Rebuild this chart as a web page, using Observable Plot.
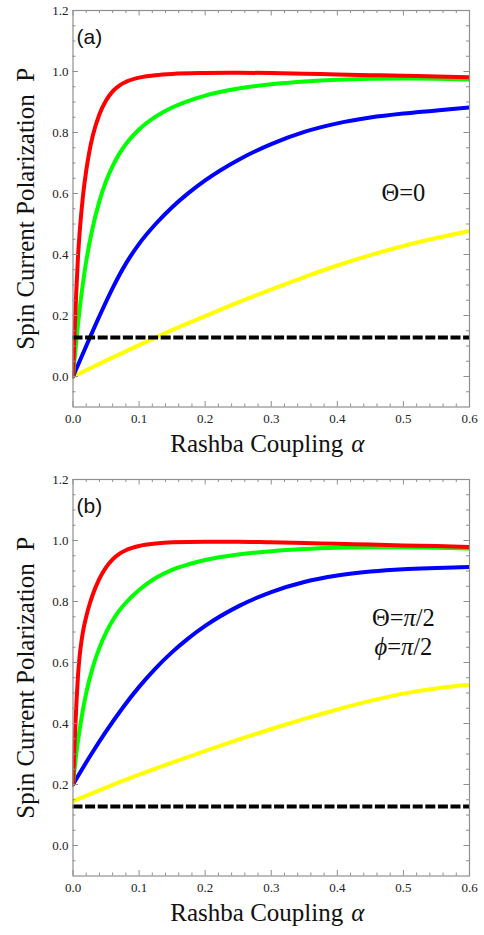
<!DOCTYPE html>
<html><head><meta charset="utf-8">
<script src="https://cdn.jsdelivr.net/npm/d3@7"></script>
<script src="https://cdn.jsdelivr.net/npm/@observablehq/plot@0.6"></script>
<style>
body{margin:0;background:#fff;}
#chart{width:484px;}
#chart svg{display:block;}
</style>
</head><body><div id="chart"></div>
<script>
// ---- data (alpha, P) ----
const redA = [[0,0],[0.0025,0.15],[0.005,0.28],[0.0075,0.39],[0.01,0.47],[0.0125,0.535],[0.015,0.59],[0.02,0.675],[0.025,0.74],[0.03,0.79],[0.04,0.86],[0.05,0.905],[0.06,0.935],[0.07,0.954],[0.08,0.966],[0.1,0.98],[0.125,0.988],[0.15,0.992],[0.2,0.995],[0.25,0.996],[0.3,0.995],[0.35,0.993],[0.4,0.99],[0.45,0.988],[0.5,0.986],[0.55,0.984],[0.6,0.981]];
const greenA = [[0,0],[0.005,0.115],[0.01,0.22],[0.015,0.305],[0.02,0.378],[0.03,0.49],[0.04,0.575],[0.05,0.64],[0.06,0.69],[0.07,0.73],[0.08,0.762],[0.1,0.81],[0.125,0.852],[0.15,0.882],[0.175,0.904],[0.2,0.921],[0.25,0.944],[0.3,0.958],[0.35,0.967],[0.4,0.973],[0.45,0.976],[0.5,0.977],[0.55,0.976],[0.6,0.974]];
const blueA = [[0,0],[0.02,0.1],[0.04,0.198],[0.06,0.29],[0.08,0.37],[0.1,0.435],[0.125,0.5],[0.15,0.555],[0.175,0.602],[0.2,0.643],[0.25,0.71],[0.3,0.762],[0.35,0.802],[0.4,0.83],[0.45,0.849],[0.5,0.862],[0.55,0.872],[0.6,0.882]];
const yellowA = [[0,0],[0.05,0.052],[0.1,0.103],[0.15,0.152],[0.2,0.198],[0.25,0.243],[0.3,0.285],[0.35,0.326],[0.4,0.364],[0.45,0.398],[0.5,0.428],[0.55,0.454],[0.6,0.477]];

const redB = [[0,0.2],[0.0025,0.34],[0.005,0.46],[0.0075,0.555],[0.01,0.62],[0.0125,0.665],[0.015,0.7],[0.02,0.75],[0.025,0.79],[0.03,0.823],[0.04,0.875],[0.05,0.912],[0.06,0.938],[0.07,0.956],[0.08,0.968],[0.1,0.982],[0.125,0.99],[0.15,0.994],[0.2,0.996],[0.25,0.996],[0.3,0.994],[0.35,0.992],[0.4,0.989],[0.45,0.987],[0.5,0.984],[0.55,0.982],[0.6,0.979]];
const greenB = [[0,0.2],[0.005,0.3],[0.01,0.38],[0.015,0.445],[0.02,0.5],[0.03,0.585],[0.04,0.648],[0.05,0.698],[0.06,0.738],[0.07,0.77],[0.08,0.796],[0.1,0.838],[0.125,0.877],[0.15,0.904],[0.175,0.922],[0.2,0.936],[0.25,0.954],[0.3,0.965],[0.35,0.972],[0.4,0.976],[0.45,0.978],[0.5,0.978],[0.55,0.976],[0.6,0.974]];
const blueB = [[0,0.2],[0.025,0.29],[0.05,0.374],[0.075,0.451],[0.1,0.52],[0.125,0.581],[0.15,0.634],[0.175,0.68],[0.2,0.72],[0.25,0.784],[0.3,0.831],[0.35,0.864],[0.4,0.885],[0.45,0.898],[0.5,0.906],[0.55,0.91],[0.6,0.913]];
const yellowB = [[0,0.145],[0.05,0.19],[0.1,0.232],[0.15,0.272],[0.2,0.31],[0.25,0.347],[0.3,0.382],[0.35,0.415],[0.4,0.446],[0.45,0.474],[0.5,0.498],[0.55,0.515],[0.6,0.527]];

const threshold = [0.128];

const xMajor = [0,0.1,0.2,0.3,0.4,0.5,0.6];
const xMinor = [0.02,0.04,0.06,0.08,0.12,0.14,0.16,0.18,0.22,0.24,0.26,0.28,0.32,0.34,0.36,0.38,0.42,0.44,0.46,0.48,0.52,0.54,0.56,0.58];
const yMajor = [0,0.2,0.4,0.6,0.8,1.0,1.2];
const yMinor = [-0.05,0.05,0.1,0.15,0.25,0.3,0.35,0.45,0.5,0.55,0.65,0.7,0.75,0.85,0.9,0.95,1.05,1.1,1.15];

const xLabel = "Rashba Coupling";
const xLabelSym = "α";
const yLabel = "Spin Current Polarization  P";

const SERIF = "'Liberation Serif','Times New Roman',serif";
const SANS = "'Liberation Sans',Arial,sans-serif";
const GRAY = "#8f8f8f";

function panel({red, green, blue, yellow, tag, notes, height, mb}) {
  const W = 484, ML = 72.5, MR = 15, MT = 10;
  const FW = W - ML - MR, FH = height - MT - mb;
  const line = (data, color) => Plot.line(data, {x: d=>d[0], y: d=>d[1], stroke: color, strokeWidth: 4, curve: "monotone-x", clip: true});
  const marks = [
    line(yellow, "#ffff00"),
    line(blue, "#0000ff"),
    line(green, "#00ff00"),
    line(red, "#ff0000"),
    Plot.ruleY(threshold, {stroke: "black", strokeWidth: 4, strokeDasharray: "10,2.6"}),
    // frame ticks (inward, all four sides)
    Plot.tickX(xMajor, {x: d=>d, insetTop: FH-5.5, stroke: GRAY}),
    Plot.tickX(xMinor, {x: d=>d, insetTop: FH-3, stroke: GRAY}),
    Plot.tickX(xMajor, {x: d=>d, insetBottom: FH-5.5, stroke: GRAY}),
    Plot.tickX(xMinor, {x: d=>d, insetBottom: FH-3, stroke: GRAY}),
    Plot.tickY(yMajor, {y: d=>d, insetRight: FW-5.5, stroke: GRAY}),
    Plot.tickY(yMinor, {y: d=>d, insetRight: FW-3, stroke: GRAY}),
    Plot.tickY(yMajor, {y: d=>d, insetLeft: FW-5.5, stroke: GRAY}),
    Plot.tickY(yMinor, {y: d=>d, insetLeft: FW-3, stroke: GRAY}),
    Plot.frame({stroke: GRAY, strokeWidth: 1.2}),
    Plot.axisX(xMajor, {tickSize: 0, tickPadding: 7, tickFormat: d=>d.toFixed(1), fontSize: 13, fontFamily: SERIF, fill: "#222", label: null}),
    Plot.axisY(yMajor, {tickSize: 0, tickPadding: 4.5, tickFormat: d=>d.toFixed(1), fontSize: 13, fontFamily: SERIF, fill: "#222", label: null}),
    Plot.text([xLabel], {frameAnchor: "bottom", dy: 44.5, dx: 72, textAnchor: "end", fontSize: 25, fontFamily: SERIF, fill: "#111"}),
    Plot.text([xLabelSym], {frameAnchor: "bottom", dy: 44.5, dx: 80, textAnchor: "start", fontSize: 25, fontFamily: SERIF, fontStyle: "italic", fill: "#111"}),
    Plot.text([yLabel], {frameAnchor: "left", dx: -47, rotate: -90, textAnchor: "middle", fontSize: 25, fontFamily: SERIF, fill: "#111"}),
    Plot.text([tag], {frameAnchor: "top-left", dx: 3.5, dy: 19, textAnchor: "start", fontSize: 21, fontFamily: SANS, fill: "#111"}),
    Plot.text(notes, {x: d=>d.x, y: d=>d.y, text: d=>d.t, fontSize: 24.5, fontFamily: SERIF, fill: "#111"})
  ];
  const svg = Plot.plot({
    width: W, height,
    marginLeft: ML, marginRight: MR, marginTop: MT, marginBottom: mb,
    x: {domain: [0, 0.6]},
    y: {domain: [-0.1, 1.2]},
    style: {fontFamily: SERIF, fontSize: "13px", background: "white", color: "#111"},
    marks
  });
  // serif tick labels
  svg.querySelectorAll("g[aria-label$='tick label']").forEach(g => {
    g.setAttribute("font-family", SERIF);
    g.style.fontFamily = SERIF;
  });
  // italic Greek symbols in annotations
  svg.querySelectorAll("text").forEach(t => {
    if (t.children.length === 0 && /[πϕ]/.test(t.textContent)) {
      const s = t.textContent; t.textContent = "";
      for (const part of s.split(/([πϕ])/).filter(p=>p)) {
        const ts = document.createElementNS("http://www.w3.org/2000/svg", "tspan");
        ts.textContent = part;
        if (/[πϕ]/.test(part)) ts.setAttribute("font-style", "italic");
        t.appendChild(ts);
      }
    }
  });
  return svg;
}

const notesA = [{x: 0.5, y: 0.6, t: "Θ=0"}];
const notesB = [{x: 0.5, y: 0.745, t: "Θ=π/2"}, {x: 0.5, y: 0.65, t: "ϕ=π/2"}];

const chart = document.getElementById("chart");
chart.appendChild(panel({red: redA, green: greenA, blue: blueA, yellow: yellowA, tag: "(a)", notes: notesA, height: 469, mb: 62.5}));
chart.appendChild(panel({red: redB, green: greenB, blue: blueB, yellow: yellowB, tag: "(b)", notes: notesB, height: 466, mb: 59.5}));
</script></body></html>
